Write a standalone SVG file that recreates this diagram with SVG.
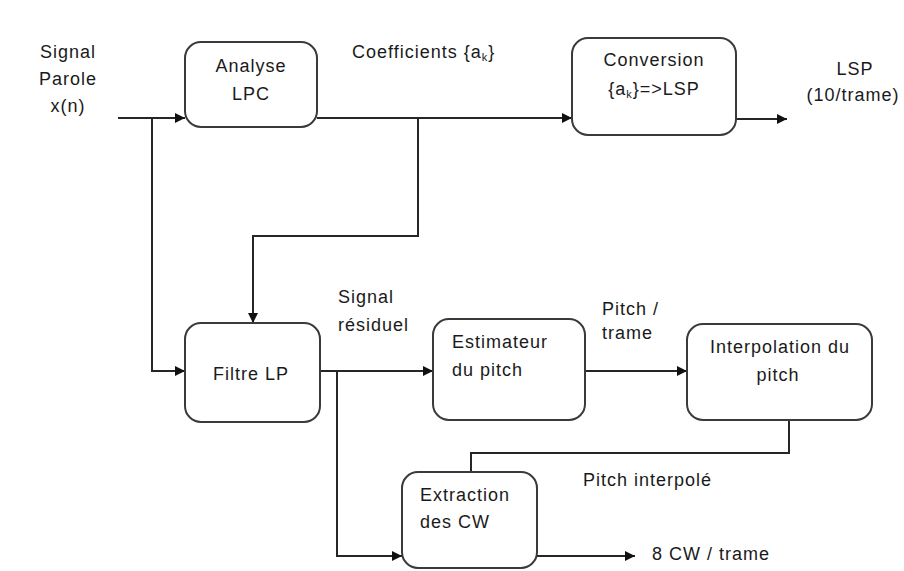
<svg xmlns="http://www.w3.org/2000/svg" width="904" height="571" viewBox="0 0 904 571">
  <style>
    .box { fill: #ffffff; stroke: #3a3a3a; stroke-width: 2; }
    .wire { fill: none; stroke: #262626; stroke-width: 2; }
    text { font-family: "Liberation Sans", Arial, sans-serif; font-size: 18px; fill: #1a1a1a; letter-spacing: 1px; }
    .c { text-anchor: middle; }
    .sub { font-size: 11px; }
  </style>
  <defs>
    <marker id="arrow" viewBox="0 0 10 10" refX="10" refY="5" markerWidth="10" markerHeight="10" markerUnits="userSpaceOnUse" orient="auto">
      <path d="M0,0 L10,5 L0,10 Z" fill="#111"/>
    </marker>
  </defs>
  <rect width="904" height="571" fill="#ffffff"/>

  <!-- connectors -->
  <g id="connectors">
    <!-- speech input to LPC analysis -->
    <path class="wire" d="M118,118 H185" marker-end="url(#arrow)"/>
    <!-- speech input branch to LP filter -->
    <path class="wire" d="M152,118 V371 H185" marker-end="url(#arrow)"/>
    <!-- coefficients to conversion -->
    <path class="wire" d="M317,118 H572" marker-end="url(#arrow)"/>
    <!-- coefficients to LP filter -->
    <path class="wire" d="M418,118 V236 H253 V323" marker-end="url(#arrow)"/>
    <!-- LSP output -->
    <path class="wire" d="M736,119 H787" marker-end="url(#arrow)"/>
    <!-- residual to pitch estimator -->
    <path class="wire" d="M320,371 H433" marker-end="url(#arrow)"/>
    <!-- residual to CW extraction -->
    <path class="wire" d="M337,371 V556 H402" marker-end="url(#arrow)"/>
    <!-- pitch per frame to interpolation -->
    <path class="wire" d="M585,371 H687" marker-end="url(#arrow)"/>
    <!-- interpolated pitch to CW extraction -->
    <path class="wire" d="M789,420 V453 H471 V472"/>
    <!-- CW output -->
    <path class="wire" d="M537,556 H635" marker-end="url(#arrow)"/>
  </g>

  <!-- nodes -->
  <g id="analyse-lpc">
    <rect class="box" x="185" y="42" width="132" height="85" rx="16"/>
    <text class="c" x="251" y="72">Analyse</text>
    <text class="c" x="251" y="100">LPC</text>
  </g>

  <g id="conversion">
    <rect class="box" x="572" y="38" width="164" height="97" rx="16"/>
    <text class="c" x="654" y="66">Conversion</text>
    <text class="c" x="654" y="95">{a<tspan class="sub" dy="3">k</tspan><tspan dy="-3">}=&gt;LSP</tspan></text>
  </g>

  <g id="filtre-lp">
    <rect class="box" x="185" y="323" width="135" height="99" rx="16"/>
    <text class="c" x="251" y="380">Filtre LP</text>
  </g>

  <g id="estimateur">
    <rect class="box" x="433" y="319" width="152" height="101" rx="16"/>
    <text x="452" y="348">Estimateur</text>
    <text x="452" y="376">du pitch</text>
  </g>

  <g id="interpolation">
    <rect class="box" x="687" y="324" width="185" height="96" rx="16"/>
    <text class="c" x="780" y="353">Interpolation du</text>
    <text class="c" x="778" y="381">pitch</text>
  </g>

  <g id="extraction">
    <rect class="box" x="402" y="472" width="135" height="96" rx="16"/>
    <text x="420" y="501">Extraction</text>
    <text x="420" y="528">des CW</text>
  </g>

  <!-- labels -->
  <g id="labels">
    <text class="c" x="68" y="58">Signal</text>
    <text class="c" x="68" y="85">Parole</text>
    <text class="c" x="68" y="112">x(n)</text>
    <text x="352" y="58">Coefficients {a<tspan class="sub" dy="3">k</tspan><tspan dy="-3">}</tspan></text>
    <text class="c" x="855" y="75">LSP</text>
    <text class="c" x="853" y="101">(10/trame)</text>
    <text x="338" y="303">Signal</text>
    <text x="338" y="331">résiduel</text>
    <text x="602" y="315">Pitch /</text>
    <text x="602" y="339">trame</text>
    <text x="583" y="486">Pitch interpolé</text>
    <text x="652" y="560">8 CW / trame</text>
  </g>
</svg>
